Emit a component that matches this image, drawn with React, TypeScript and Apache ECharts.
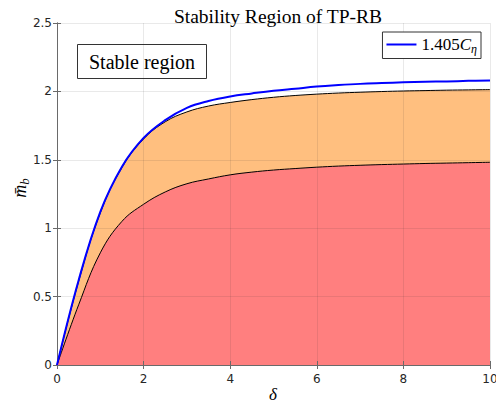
import React, { useEffect, useRef } from "react";
import * as echarts from "echarts";

// delta values (x)
const delta = [0, 0.5, 1, 1.5, 2, 2.5, 3, 3.5, 4, 4.5, 5, 5.5, 6, 6.5, 7, 7.5, 8, 8.5, 9, 9.5, 10];
// 1.405 C_eta (blue curve)
const blueCurve = [0, 0.62, 1.12, 1.45, 1.66, 1.79, 1.88, 1.93, 1.963, 1.985, 2.005, 2.02, 2.035, 2.046, 2.055, 2.061, 2.066, 2.07, 2.073, 2.077, 2.08];
// upper boundary of the orange band
const upperBound = [0, 0.612, 1.112, 1.443, 1.652, 1.778, 1.85, 1.893, 1.919, 1.94, 1.957, 1.97, 1.98, 1.988, 1.994, 1.999, 2.003, 2.006, 2.009, 2.011, 2.013];
// upper boundary of the red region
const lowerBound = [0, 0.44, 0.82, 1.05, 1.175, 1.265, 1.325, 1.36, 1.39, 1.41, 1.425, 1.436, 1.446, 1.454, 1.46, 1.465, 1.469, 1.473, 1.476, 1.479, 1.482];

const xTicks = { min: 0, max: 10, interval: 2 };
const yTicks = { min: 0, max: 2.5, interval: 0.5 };

const titleText = "Stability Region of TP-RB";
const boxText = "Stable region";
const legendName = "1.405C\u03b7";
const xName = "\u03b4";

const SERIF = "'Liberation Serif', 'Times New Roman', serif";
const SANS = "'DejaVu Sans', sans-serif";
const AXIS_COLOR = "#6a6a6a";
const GRID_COLOR = "rgba(38,38,38,0.1)";

export default function App() {
  const ref = useRef<HTMLDivElement>(null);
  useEffect(() => {
    if (!ref.current) return;
    const chart = echarts.init(ref.current, undefined, { renderer: "svg" });
    const redData = delta.map((d, i) => [d, lowerBound[i]]);
    const orangeData = delta.map((d, i) => [d, upperBound[i]]);
    const blueData = delta.map((d, i) => [d, blueCurve[i]]);

    const commonAxisBits = {
      z: 3,
      axisLine: { show: true, lineStyle: { color: AXIS_COLOR, width: 1 } },
      axisTick: { show: true, inside: true, length: 4, lineStyle: { color: AXIS_COLOR, width: 1 } },
    };

    chart.setOption({
      animation: false,
      backgroundColor: "#ffffff",
      title: {
        text: titleText,
        left: 273,
        top: 1,
        textAlign: "center",
        textStyle: { fontFamily: SERIF, fontWeight: "normal", fontSize: 19.5, color: "#000" },
      },
      grid: { left: 57, right: 6, top: 23, bottom: 41, outerBoundsMode: "none", containLabel: false },
      legend: {
        data: [{ name: legendName, icon: "rect" }],
        right: 15,
        top: 32,
        orient: "horizontal",
        borderColor: "#333",
        borderWidth: 1,
        backgroundColor: "#fff",
        borderRadius: 0,
        padding: [4, 4, 4, 4],
        itemWidth: 30,
        itemHeight: 2,
        itemGap: 4,
        z: 10,
        formatter: () => "{n|1.405}{c|C}{e|\u03b7}",
        textStyle: {
          fontFamily: SERIF,
          rich: {
            n: { fontFamily: SERIF, fontSize: 17, color: "#000" },
            c: { fontFamily: SERIF, fontSize: 17, fontStyle: "italic", color: "#000" },
            e: { fontFamily: SERIF, fontSize: 12, fontStyle: "italic", color: "#000", padding: [8, 0, 0, 0] },
          },
        },
      },
      xAxis: [
        {
          type: "value",
          ...xTicks,
          ...commonAxisBits,
          axisLabel: { color: "#262626", fontSize: 12, fontFamily: SANS, margin: 8 },
          splitLine: { show: true, lineStyle: { color: GRID_COLOR, width: 1 } },
        },
        {
          type: "value",
          position: "top",
          ...xTicks,
          ...commonAxisBits,
          axisLabel: { show: false },
          splitLine: { show: false },
        },
      ],
      yAxis: [
        {
          type: "value",
          ...yTicks,
          ...commonAxisBits,
          axisLabel: { color: "#262626", fontSize: 12, fontFamily: SANS, margin: 5 },
          splitLine: { show: true, lineStyle: { color: GRID_COLOR, width: 1 } },
        },
        {
          type: "value",
          position: "right",
          ...yTicks,
          ...commonAxisBits,
          axisLabel: { show: false },
          splitLine: { show: false },
        },
      ],
      graphic: [
        {
          type: "group",
          left: 77,
          top: 44,
          z: 10,
          children: [
            {
              type: "rect",
              shape: { x: 0, y: 0, width: 129, height: 34 },
              style: { fill: "#fff", stroke: "#333", lineWidth: 1 },
            },
            {
              type: "text",
              x: 64.5,
              y: 17,
              style: {
                text: boxText,
                fontFamily: SERIF,
                fontSize: 20,
                fill: "#000",
                align: "center",
                verticalAlign: "middle",
              },
            },
          ],
        },
        {
          type: "text",
          x: 273,
          y: 394,
          z: 10,
          style: {
            text: xName,
            fontFamily: SERIF,
            fontStyle: "italic",
            fontSize: 17,
            fill: "#000",
            align: "center",
            verticalAlign: "middle",
          },
        },
        {
          type: "text",
          x: 20,
          y: 188,
          rotation: Math.PI / 2,
          z: 10,
          style: {
            text: "{m|m\u0304}{s|b}",
            align: "center",
            verticalAlign: "middle",
            rich: {
              m: { fontFamily: SERIF, fontStyle: "italic", fontSize: 18, fill: "#000" },
              s: { fontFamily: SERIF, fontStyle: "italic", fontSize: 13, fill: "#000", padding: [8, 0, 0, 0] },
            },
          },
        },
      ],
      series: [
        {
          name: "orange",
          type: "line",
          data: orangeData,
          smooth: 0.4,
          symbol: "none",
          lineStyle: { color: "#000", width: 1 },
          areaStyle: { color: "#ffbf7f", opacity: 1 },
          z: 2,
        },
        {
          name: "red",
          type: "line",
          data: redData,
          smooth: 0.4,
          symbol: "none",
          lineStyle: { color: "#000", width: 1 },
          areaStyle: { color: "#ff7f7f", opacity: 1 },
          z: 2,
        },
        {
          name: legendName,
          type: "line",
          data: blueData,
          smooth: 0.4,
          symbol: "none",
          lineStyle: { color: "#0000ff", width: 2 },
          itemStyle: { color: "#0000ff" },
          z: 5,
        },
      ],
    });
    return () => chart.dispose();
  }, []);
  return (
    <div
      ref={ref}
      style={{ position: "absolute", left: 0, top: 0, width: 496, height: 406 }}
    />
  );
}
